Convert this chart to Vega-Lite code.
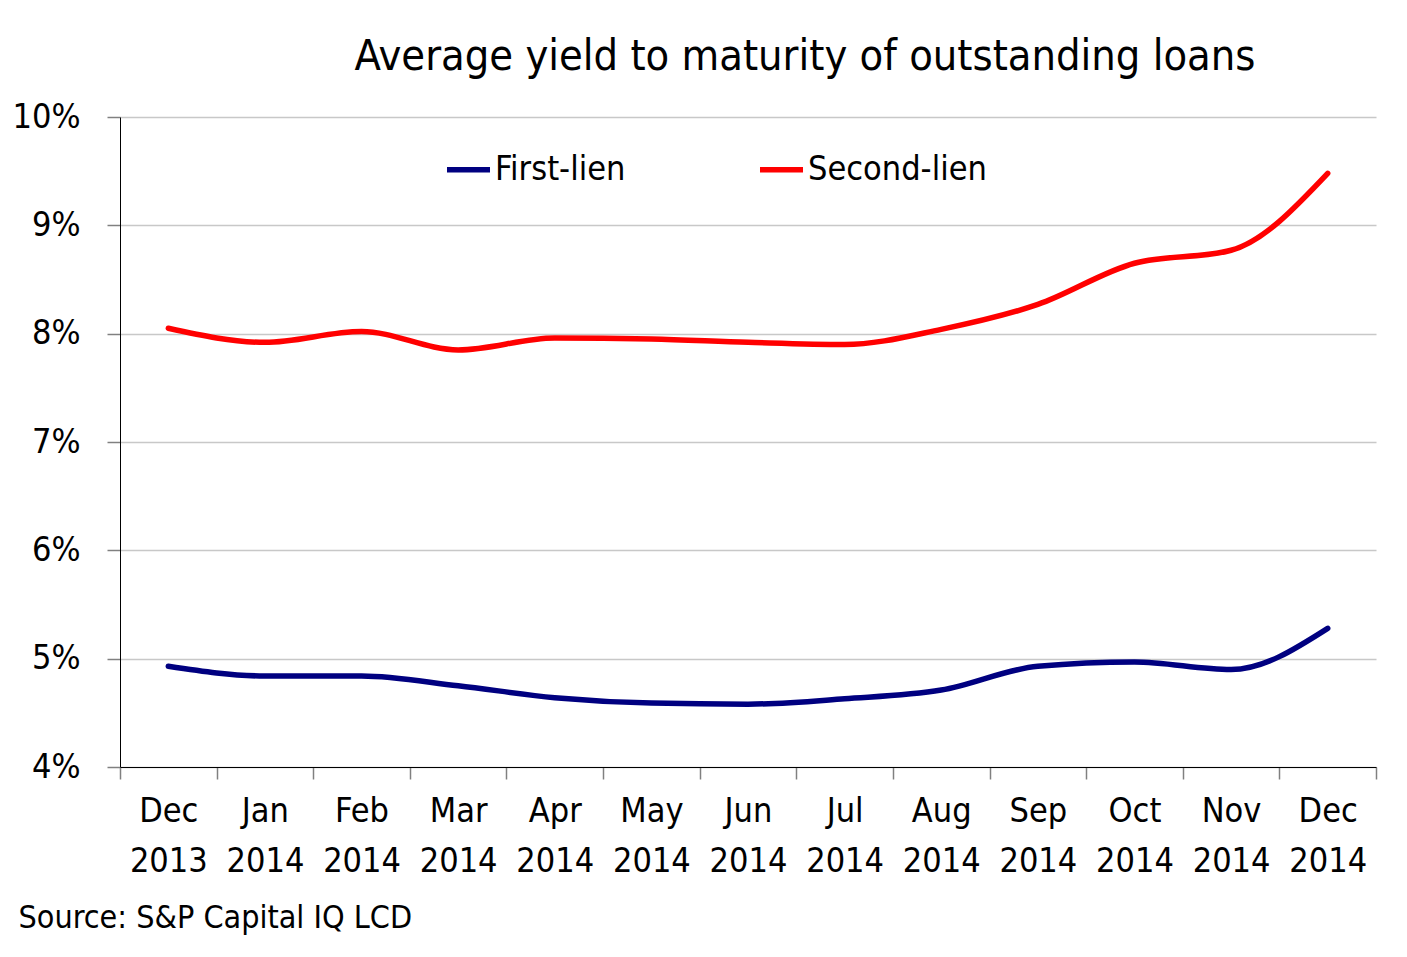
{
  "$schema": "https://vega.github.io/schema/vega-lite/v6.json",
  "width": 1256,
  "height": 650,
  "autosize": {"type": "none"},
  "padding": {"left": 120, "top": 117, "right": 31, "bottom": 190},
  "background": "white",
  "title": {
    "text": "Average yield to maturity of outstanding loans",
    "font": "Liberation Sans Narrow, DejaVu Sans Condensed, Liberation Sans",
    "fontSize": 43,
    "fontWeight": "normal",
    "color": "black",
    "anchor": "middle",
    "frame": "group",
    "baseline": "alphabetic",
    "offset": -13,
    "dx": 57
  },
  "data": {
    "values": [
      {"month": "Dec 2013", "series": "First-lien", "yield": 4.93},
      {"month": "Jan 2014", "series": "First-lien", "yield": 4.84},
      {"month": "Feb 2014", "series": "First-lien", "yield": 4.84},
      {"month": "Mar 2014", "series": "First-lien", "yield": 4.75},
      {"month": "Apr 2014", "series": "First-lien", "yield": 4.64},
      {"month": "May 2014", "series": "First-lien", "yield": 4.59},
      {"month": "Jun 2014", "series": "First-lien", "yield": 4.58},
      {"month": "Jul 2014", "series": "First-lien", "yield": 4.63},
      {"month": "Aug 2014", "series": "First-lien", "yield": 4.71},
      {"month": "Sep 2014", "series": "First-lien", "yield": 4.93},
      {"month": "Oct 2014", "series": "First-lien", "yield": 4.97},
      {"month": "Nov 2014", "series": "First-lien", "yield": 4.90},
      {"month": "Dec 2014", "series": "First-lien", "yield": 5.28},
      {"month": "Dec 2013", "series": "Second-lien", "yield": 8.05},
      {"month": "Jan 2014", "series": "Second-lien", "yield": 7.92},
      {"month": "Feb 2014", "series": "Second-lien", "yield": 8.02},
      {"month": "Mar 2014", "series": "Second-lien", "yield": 7.85},
      {"month": "Apr 2014", "series": "Second-lien", "yield": 7.96},
      {"month": "May 2014", "series": "Second-lien", "yield": 7.95},
      {"month": "Jun 2014", "series": "Second-lien", "yield": 7.92},
      {"month": "Jul 2014", "series": "Second-lien", "yield": 7.90},
      {"month": "Aug 2014", "series": "Second-lien", "yield": 8.04},
      {"month": "Sep 2014", "series": "Second-lien", "yield": 8.27},
      {"month": "Oct 2014", "series": "Second-lien", "yield": 8.65},
      {"month": "Nov 2014", "series": "Second-lien", "yield": 8.77},
      {"month": "Dec 2014", "series": "Second-lien", "yield": 9.48}
    ]
  },
  "mark": {"type": "line", "interpolate": "monotone", "strokeWidth": 5.5, "strokeCap": "round"},
  "encoding": {
    "x": {
      "field": "month",
      "type": "nominal",
      "sort": null,
      "scale": {"type": "band", "paddingInner": 0, "paddingOuter": 0},
      "axis": {
        "labelAngle": 0,
        "labelExpr": "split(datum.label, ' ')",
        "labelFont": "Liberation Sans Narrow, DejaVu Sans Condensed, Liberation Sans",
        "labelFontSize": 34,
        "labelLineHeight": 50,
        "labelColor": "black",
        "labelPadding": 15,
        "tickBand": "extent",
        "tickSize": 12,
        "tickColor": "#808080",
        "tickWidth": 1.5,
        "domainColor": "black",
        "domainWidth": 1,
        "grid": false,
        "title": "Source: S&P Capital IQ LCD",
        "titleFont": "Liberation Sans Narrow, DejaVu Sans Condensed, Liberation Sans",
        "titleFontSize": 32,
        "titleFontWeight": "normal",
        "titleColor": "black",
        "titleAlign": "left",
        "titleAnchor": null,
        "titleBaseline": "alphabetic",
        "titleX": -102,
        "titleY": 160
      }
    },
    "y": {
      "field": "yield",
      "type": "quantitative",
      "scale": {"domain": [4, 10], "nice": false, "zero": false},
      "axis": {
        "values": [4, 5, 6, 7, 8, 9, 10],
        "labelExpr": "datum.value + '%'",
        "labelFont": "Liberation Sans Narrow, DejaVu Sans Condensed, Liberation Sans",
        "labelFontSize": 34,
        "labelColor": "black",
        "labelPadding": 27,
        "tickSize": 13,
        "tickColor": "#808080",
        "tickWidth": 1.5,
        "domainColor": "black",
        "domainWidth": 1,
        "grid": true,
        "gridColor": "#c8c8c8",
        "gridWidth": 1.5,
        "title": null
      }
    },
    "color": {
      "field": "series",
      "type": "nominal",
      "scale": {"domain": ["First-lien", "Second-lien"], "range": ["#000080", "#ff0000"]},
      "legend": {
        "title": null,
        "orient": "none",
        "direction": "horizontal",
        "legendX": 324,
        "legendY": 28,
        "symbolType": "stroke",
        "symbolSize": 1849,
        "symbolStrokeWidth": 5.5,
        "labelFont": "Liberation Sans Narrow, DejaVu Sans Condensed, Liberation Sans",
        "labelFontSize": 34,
        "labelColor": "black",
        "labelOffset": 2,
        "columnPadding": 123,
        "labelLimit": 400
      }
    }
  },
  "config": {"view": {"stroke": null}}
}
